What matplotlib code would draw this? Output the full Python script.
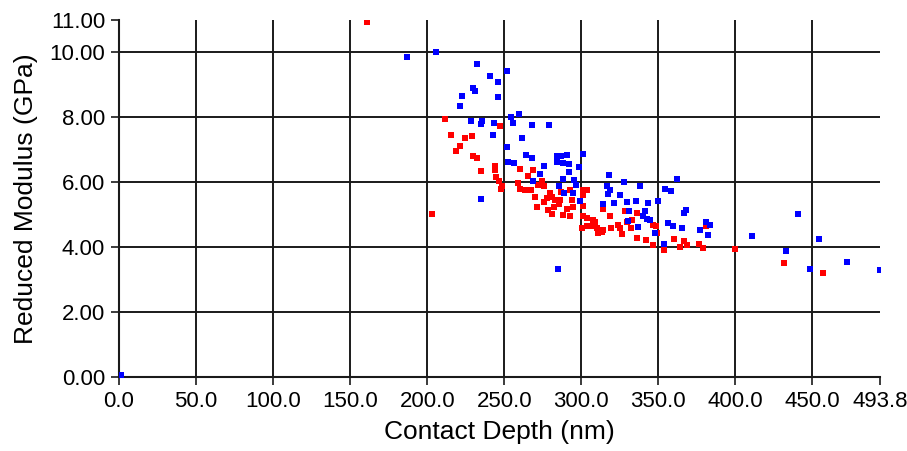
import matplotlib
matplotlib.use("Agg")
import matplotlib.pyplot as plt

plt.rcParams['font.family'] = ['Liberation Sans', 'DejaVu Sans']

# ---- data ----
blue_x = [1.0, 186.8, 205.4, 232.2, 251.9, 240.7, 245.9, 229.6, 230.7, 245.9, 222.3, 221.4,
          228.1, 235.7, 235.0, 243.3, 254.1, 255.8, 259.3, 267.9, 278.8, 242.4, 261.8, 251.9,
          264.2, 268.1, 252.3, 256.0, 275.9, 284.3, 286.9, 290.8, 284.3, 288.2, 292.1, 301.2,
          298.4, 273.3, 291.9, 268.8, 288.2, 295.4, 296.5, 285.6, 288.7, 294.7, 299.1, 234.6,
          284.6, 318.1, 327.6, 338.0, 316.4, 318.5, 317.4, 325.0, 313.8, 321.1, 329.4, 335.2,
          343.4, 349.5, 361.8, 354.2, 357.9, 367.6, 366.5, 331.0, 341.2, 340.1, 342.7, 344.5,
          330.4, 336.9, 347.7, 356.3, 359.6, 365.0, 376.9, 380.6, 383.8, 382.3, 353.6, 410.8,
          440.3, 454.5, 432.7, 448.1, 472.3, 493.5]
blue_y = [0.05, 9.85, 10.00, 9.65, 9.44, 9.28, 9.08, 8.89, 8.81, 8.63, 8.67, 8.36,
          7.88, 7.90, 7.80, 7.83, 8.01, 7.83, 8.10, 7.76, 7.76, 7.47, 7.37, 7.08,
          6.83, 6.75, 6.64, 6.60, 6.51, 6.82, 6.80, 6.85, 6.61, 6.59, 6.57, 6.88,
          6.47, 6.24, 6.32, 6.03, 6.10, 6.06, 5.93, 5.87, 5.67, 5.67, 5.41, 5.47,
          3.33, 6.23, 6.00, 5.90, 5.87, 5.77, 5.65, 5.60, 5.32, 5.36, 5.39, 5.43,
          5.36, 5.43, 6.10, 5.80, 5.74, 5.15, 5.05, 5.12, 5.12, 4.97, 4.88, 4.85,
          4.81, 4.62, 4.45, 4.76, 4.66, 4.59, 4.54, 4.79, 4.67, 4.38, 4.09, 4.34,
          5.02, 4.26, 3.87, 3.34, 3.54, 3.30]

red_x = [160.7, 211.3, 247.4, 215.6, 224.7, 229.0, 221.4, 218.8, 229.6, 232.5, 234.6, 244.3,
         244.3, 260.3, 268.6, 265.3, 244.8, 246.7, 248.3, 248.0, 258.8, 260.1, 263.4, 267.1,
         269.9, 271.0, 274.2, 272.0, 275.9, 277.4, 280.7, 283.0, 285.2, 278.1, 280.7, 288.2,
         290.4, 293.7, 292.4, 300.8, 303.8, 294.7, 301.2, 300.8, 303.4, 307.3, 300.2, 309.9,
         310.9, 202.8, 279.6, 307.7, 314.2, 319.2, 314.2, 318.5, 325.0, 326.5, 328.3, 332.1,
         335.8, 333.2, 336.2, 341.9, 346.6, 348.4, 346.6, 353.6, 360.2, 363.9, 366.5, 368.3,
         376.5, 379.0, 380.6, 399.6, 431.2, 457.1,
         287.0, 276.0, 282.5, 301.2, 308.8, 303.4, 313.1, 323.9, 329.4, 348.8, 292.6, 286.1]
red_y = [10.94, 7.96, 7.72, 7.47, 7.36, 7.44, 7.12, 6.95, 6.80, 6.75, 6.36, 6.51,
         6.39, 6.41, 6.39, 6.20, 6.15, 6.03, 5.90, 5.80, 5.99, 5.79, 5.77, 5.75,
         5.56, 5.25, 6.05, 5.93, 5.87, 5.51, 5.56, 5.46, 5.34, 5.15, 5.02, 5.00,
         5.18, 5.46, 5.77, 5.77, 5.75, 5.25, 5.28, 4.97, 4.89, 4.85, 4.59, 4.59,
         4.43, 5.03, 5.67, 4.64, 4.54, 4.59, 5.19, 4.95, 4.59, 4.41, 5.10, 4.59,
         5.05, 4.85, 4.28, 4.23, 4.69, 4.64, 4.07, 3.92, 4.26, 4.02, 4.18, 4.07,
         4.09, 3.97, 4.66, 3.95, 3.50, 3.21,
         5.70, 5.40, 5.25, 5.62, 4.79, 4.66, 4.48, 4.69, 4.79, 4.43, 4.95, 5.46]

x_ticks = [0, 50, 100, 150, 200, 250, 300, 350, 400, 450, 493.8]
x_labels = ["0.0", "50.0", "100.0", "150.0", "200.0", "250.0", "300.0", "350.0",
            "400.0", "450.0", "493.8"]
y_ticks = [0, 2, 4, 6, 8, 10, 11]
y_labels = ["0.00", "2.00", "4.00", "6.00", "8.00", "10.00", "11.00"]

# ---- figure ----
fig = plt.figure(figsize=(9.07, 4.51), dpi=100)
ax = fig.add_axes([119 / 907, 1 - 377 / 451, (880 - 119) / 907, (377 - 20) / 451])

ax.set_xlim(0, 493.8)
ax.set_ylim(0, 11)

grid_kw = dict(color='#1a1a1a', lw=1.4, zorder=1)
for xv in x_ticks[1:-1]:
    ax.axvline(xv, **grid_kw)
for yv in y_ticks[1:-1]:
    ax.axhline(yv, **grid_kw)

ax.scatter(red_x, red_y, marker='s', s=25, c='#ff0000', linewidths=0, zorder=3)
ax.scatter(blue_x, blue_y, marker='s', s=25, c='#0000ff', linewidths=0, zorder=3)

ax.set_xticks(x_ticks)
ax.set_xticklabels(x_labels)
ax.set_yticks(y_ticks)
ax.set_yticklabels(y_labels)
ax.tick_params(axis='both', direction='out', length=6, width=1.2, color='#1a1a1a',
               labelsize=16, pad=4)

for s in ['top', 'right']:
    ax.spines[s].set_visible(False)
for s in ['left', 'bottom']:
    ax.spines[s].set_linewidth(1.5)
    ax.spines[s].set_color('#1a1a1a')

ax.set_xlabel("Contact Depth (nm)", fontsize=19, labelpad=6)
ax.set_ylabel("Reduced Modulus (GPa)", fontsize=19, labelpad=8)

fig.savefig("out.png", dpi=100)
